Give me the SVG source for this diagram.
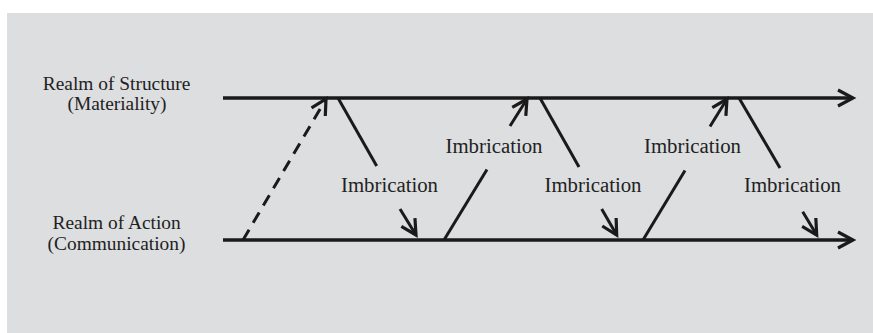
<svg xmlns="http://www.w3.org/2000/svg" width="873" height="333" viewBox="0 0 873 333">
<style>
text{font-family:'Liberation Serif','Times New Roman',serif;fill:#222;text-anchor:middle}
.lab{font-size:19.4px}
.imb{font-size:20.8px}
.main{stroke:#1a1a1a;stroke-width:3.5;fill:none}
.ln{stroke:#1a1a1a;stroke-width:3;fill:none;stroke-linecap:butt}
.dash{stroke-dasharray:12 8}
</style>
<defs>
<marker id="ah" markerUnits="userSpaceOnUse" markerWidth="24" markerHeight="24" viewBox="-18 -12 24 24" refX="0" refY="0" orient="auto" overflow="visible">
<path d="M-15,-8 L0,0 L-15,8" fill="none" stroke="#1a1a1a" stroke-width="3.2" stroke-linejoin="miter"/>
</marker>
</defs>
<rect x="7" y="13" width="866" height="320" fill="#dddee0"/>
<g id="realm-structure">
<text class="lab" x="116.6" y="90">Realm of Structure</text>
<text class="lab" x="117" y="109.5">(Materiality)</text>
</g>
<g id="realm-action">
<text class="lab" x="116.6" y="229">Realm of Action</text>
<text class="lab" x="116.5" y="250">(Communication)</text>
</g>
<g id="labels">
<text class="imb" x="389.5" y="192">Imbrication</text>
<text class="imb" x="494" y="153">Imbrication</text>
<text class="imb" x="593" y="192">Imbrication</text>
<text class="imb" x="692.5" y="153">Imbrication</text>
<text class="imb" x="792.5" y="192">Imbrication</text>
</g>
<g id="connectors">
<line class="main" x1="223" y1="98" x2="853" y2="98" marker-end="url(#ah)"/>
<line class="main" x1="223" y1="240" x2="853" y2="240" marker-end="url(#ah)"/>
<line class="ln dash" x1="243" y1="240" x2="326" y2="99" marker-end="url(#ah)"/>
<line class="ln" x1="338" y1="98" x2="376.7" y2="166"/>
<line class="ln" x1="400" y1="209" x2="416" y2="235" marker-end="url(#ah)"/>
<line class="ln" x1="444" y1="240" x2="487" y2="169.5"/>
<line class="ln" x1="510" y1="126" x2="527" y2="99" marker-end="url(#ah)"/>
<line class="ln" x1="540" y1="98" x2="579" y2="167"/>
<line class="ln" x1="601.7" y1="209" x2="616.7" y2="235" marker-end="url(#ah)"/>
<line class="ln" x1="643" y1="240" x2="685" y2="170.5"/>
<line class="ln" x1="710" y1="126.5" x2="727" y2="99" marker-end="url(#ah)"/>
<line class="ln" x1="739" y1="98" x2="780" y2="168"/>
<line class="ln" x1="802.7" y1="211.7" x2="816.7" y2="235" marker-end="url(#ah)"/>
</g>
</svg>
